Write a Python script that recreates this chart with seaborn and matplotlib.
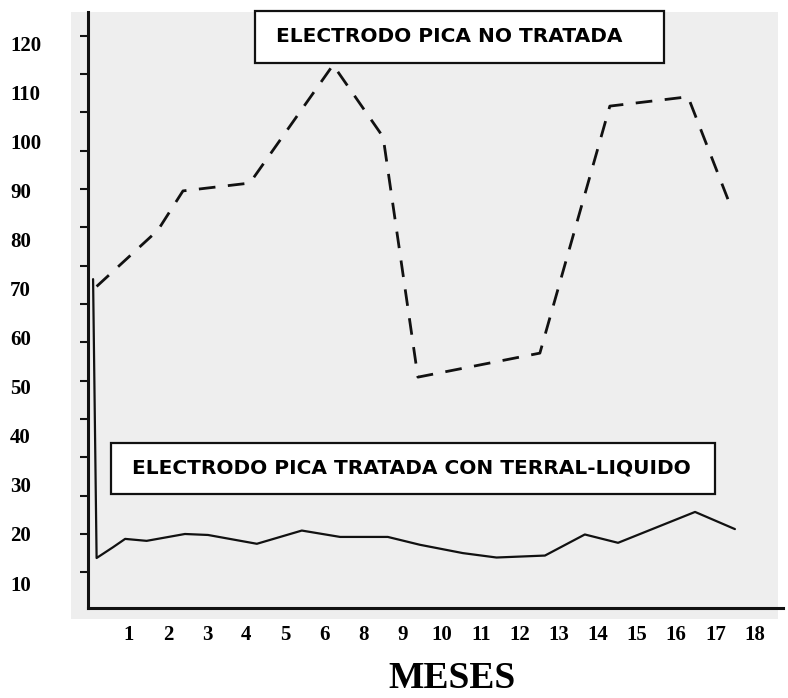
"""
Resistencia de electrodo pica: tratada vs no tratada (scan recreation)
"""

import numpy as np
import pandas as pd
import matplotlib
matplotlib.use("Agg")
import matplotlib.pyplot as plt
import seaborn as sns
from matplotlib.patches import Rectangle

# month labels as printed (the original skips 7)
meses = ["1", "2", "3", "4", "5", "6", "8", "9", "10", "11", "12",
         "13", "14", "15", "16", "17", "18"]
y_labels = [10, 20, 30, 40, 50, 60, 70, 80, 90, 100, 110, 120]

tratada_x = [0.08, 0.17, 0.59, 0.90, 1.45, 2.43, 3.02, 4.27, 5.42, 6.40,
             7.62, 8.44, 9.54, 10.40, 11.64, 12.66, 13.51, 15.48, 16.50]
tratada_y = [72.0, 15.1, 17.3, 19.0, 18.6, 20.0, 19.8, 18.0, 20.7, 19.4,
             19.4, 17.8, 16.1, 15.2, 15.6, 19.9, 18.2, 24.5, 21.0]

no_tratada_x = [0.17, 1.74, 2.38, 4.09, 6.22, 7.50, 8.39, 11.51, 13.30, 15.30, 16.37]
no_tratada_y = [70.5, 82.0, 90.0, 91.6, 115.7, 101.0, 52.0, 56.9, 107.3, 109.2, 87.3]

sns.set_style("white")
plt.rcParams["font.family"] = ["DejaVu Sans"]

W, H = 788, 698
fig = plt.figure(figsize=(W / 100, H / 100), dpi=100)

# axes placed from the pixel frame of the scan
ax_l, ax_r, ax_t, ax_b = 88, 783, 12, 608
ax = fig.add_axes([ax_l / W, 1 - ax_b / H, (ax_r - ax_l) / W, (ax_b - ax_t) / H])
ax.set_facecolor("none")

# grey paper behind the plot
bg = Rectangle((71 / W, 1 - 619 / H), (778 - 71) / W, (619 - 12) / H,
               transform=fig.transFigure, facecolor="#eeeeee", edgecolor="none", zorder=-1)
fig.add_artist(bg)

df_t = pd.DataFrame({"mes": tratada_x, "valor": tratada_y})
df_n = pd.DataFrame({"mes": no_tratada_x, "valor": no_tratada_y})

sns.lineplot(data=df_t, x="mes", y="valor", sort=False, estimator=None,
             color="#111111", linewidth=1.6, ax=ax)
sns.lineplot(data=df_n, x="mes", y="valor", sort=False, estimator=None,
             color="#111111", linewidth=2.0, linestyle=(0, (6, 4.5)), ax=ax)

ax.set_xlim(-0.05, 17.73)
ax.set_ylim(4.9, 126.5)

for side in ["top", "right"]:
    ax.spines[side].set_visible(False)
for side in ["left", "bottom"]:
    ax.spines[side].set_linewidth(2.2)
    ax.spines[side].set_color("#111111")

ax.set_xlabel("")
ax.set_ylabel("")

# x ticks
ax.set_xticks(range(1, len(meses) + 1))
ax.set_xticklabels(meses)
ax.tick_params(axis="x", which="major", direction="out", length=6, width=1.5,
               pad=6, colors="#111111", labelsize=15)

# y: labels do not sit on the tick marks in the original
ax.set_yticks(y_labels)
ax.set_yticklabels([str(v) for v in y_labels])
ax.set_yticks(np.arange(12.2, 125, 7.82), minor=True)
ax.tick_params(axis="y", which="major", length=0, pad=56, labelsize=15)
ax.tick_params(axis="y", which="minor", left=True, direction="out", length=6,
               width=1.5, color="#111111")
for lab in ax.get_yticklabels():
    lab.set_horizontalalignment("left")

for lab in ax.get_xticklabels() + ax.get_yticklabels():
    lab.set_fontfamily("Liberation Serif")
    lab.set_fontweight("bold")
    lab.set_color("black")


def to_ax(px, py):
    return (px - ax_l) / (ax_r - ax_l), (ax_b - py) / (ax_b - ax_t)


def label_box(x0, y0, x1, y1, tx, text):
    a0 = to_ax(x0, y1)
    a1 = to_ax(x1, y0)
    box = Rectangle(a0, a1[0] - a0[0], a1[1] - a0[1], transform=ax.transAxes,
                    facecolor="white", edgecolor="#111111", linewidth=1.6,
                    clip_on=False, zorder=5)
    ax.add_patch(box)
    t = to_ax(tx, (y0 + y1) / 2)
    ax.text(t[0], t[1], text, transform=ax.transAxes, ha="left", va="center",
            fontsize=14.5, fontweight="bold", color="black", zorder=6)


label_box(255, 11, 664, 63, 276, "ELECTRODO PICA NO TRATADA")
label_box(111, 443, 715, 494, 132, "ELECTRODO PICA TRATADA CON TERRAL-LIQUIDO")

fig.text(452 / W, 1 - 678 / H, "MESES", ha="center", va="center", fontsize=27,
         fontfamily="Liberation Serif", fontweight="bold", color="black")

fig.savefig("out.png", dpi=100)
